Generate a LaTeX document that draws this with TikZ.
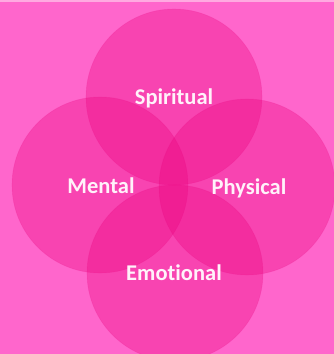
\documentclass[tikz,border=0pt]{standalone}
\usepackage{fontspec}
\setmainfont[Ligatures=NoCommon]{Carlito}
\definecolor{bgpink}{RGB}{255,102,204}
\definecolor{toppink}{RGB}{255,170,225}
\definecolor{circpink}{RGB}{235,0,125}
\definecolor{txtwhite}{RGB}{255,242,250}
\tikzset{
  petal/.style={circle, minimum size=176pt, inner sep=0pt, fill=circpink, fill opacity=0.33, draw=circpink, draw opacity=0.15, line width=0.6pt},
  lbl/.style={text=txtwhite, font=\bfseries\fontsize{22.5}{26}\selectfont, inner sep=0pt, anchor=base}
}
\begin{document}
\begin{tikzpicture}[x=1pt,y=-1pt]
\useasboundingbox (0,0) rectangle (334,354);
\fill[bgpink] (0,0) rectangle (334,354);
\fill[toppink] (0,0) rectangle (334,2);
\node[petal] (spiritual) at (174,97) {};
\node[petal] (mental) at (100,185) {};
\node[petal] (physical) at (247,187) {};
\node[petal] (emotional) at (175,273) {};
\node[lbl] (tS) at (174,104) {Spiritual};
\node[lbl] (tM) at (101,193) {Mental};
\node[lbl] (tP) at (249,194) {Physical};
\node[lbl] (tE) at (174,280) {Emotional};
\end{tikzpicture}
\end{document}
